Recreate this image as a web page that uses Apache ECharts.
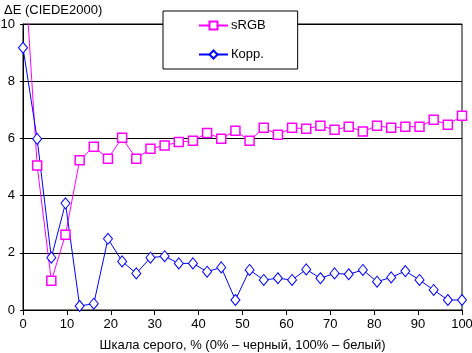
<!DOCTYPE html>
<html>
<head>
<meta charset="utf-8">
<script src="https://cdn.jsdelivr.net/npm/echarts@6/dist/echarts.min.js"></script>
<style>
  html, body { margin: 0; padding: 0; background: #fff; }
  #chart { width: 472px; height: 353px; }
</style>
</head>
<body>
<div id="chart"></div>
<script>
// 32 grey levels, 0..100 %
var grey = [];
for (var i = 0; i < 32; i++) grey.push(i * 100 / 31);

var srgb = [12.9, 5.05, 1.02, 2.63, 5.24, 5.71, 5.29, 6.02, 5.29, 5.64, 5.75, 5.87, 5.92, 6.19, 5.99, 6.27,
            5.92, 6.37, 6.13, 6.37, 6.34, 6.44, 6.30, 6.41, 6.24, 6.44, 6.37, 6.41, 6.41, 6.65, 6.48, 6.79];
var korr = [9.17, 5.98, 1.83, 3.73, 0.14, 0.22, 2.49, 1.70, 1.28, 1.83, 1.88, 1.63, 1.63, 1.34, 1.49, 0.35,
            1.40, 1.05, 1.11, 1.05, 1.42, 1.11, 1.28, 1.25, 1.40, 0.99, 1.14, 1.36, 1.05, 0.70, 0.35, 0.35];

var yMax = 10;

function pairs(vals) {
    return vals.map(function (v, i) {
        // points above the axis are off the chart, no marker
        if (v > yMax) return { value: [grey[i], v], symbol: 'none' };
        return [grey[i], v];
    });
}

var font = 'Liberation Sans, Arial, sans-serif';
var myChart = echarts.init(document.getElementById('chart'));

option = {
    animation: false,
    backgroundColor: '#fff',
    title: {
        text: 'ΔE (CIEDE2000)',
        left: -1,
        top: -1,
        textStyle: { fontFamily: font, fontSize: 13, fontWeight: 'normal', color: '#000' }
    },
    legend: {
        orient: 'vertical',
        left: 163,
        top: 11,
        padding: [8, 32, 8, 35],
        itemGap: 16,
        itemWidth: 29,
        itemHeight: 10,
        borderColor: '#000',
        borderWidth: 1,
        backgroundColor: '#fff',
        textStyle: { fontFamily: font, fontSize: 13, color: '#000', padding: [0, 0, 0, -2] },
        data: ['sRGB', 'Корр.']
    },
    grid: {
        left: 23,
        right: 10,
        top: 24,
        bottom: 43,
        outerBoundsMode: 'none',
        show: true,
        borderColor: '#000',
        borderWidth: 1
    },
    xAxis: {
        type: 'value',
        min: 0,
        max: 100,
        interval: 10,
        name: 'Шкала серого, % (0% – черный, 100% – белый)',
        nameLocation: 'middle',
        nameGap: 29,
        nameTextStyle: { fontFamily: font, fontSize: 13, color: '#000' },
        axisLine: { lineStyle: { color: '#000' } },
        axisTick: { length: 5, lineStyle: { color: '#000' } },
        axisLabel: { fontFamily: font, fontSize: 13, color: '#000', margin: 8 },
        splitLine: { show: false }
    },
    yAxis: {
        type: 'value',
        min: 0,
        max: yMax,
        interval: 2,
        axisLine: { show: true, lineStyle: { color: '#000' } },
        axisTick: { show: true, length: 3, lineStyle: { color: '#000' } },
        axisLabel: { fontFamily: font, fontSize: 13, color: '#000', margin: 8 },
        splitLine: { lineStyle: { color: '#000', width: 1 } }
    },
    series: [
        {
            name: 'sRGB',
            type: 'line',
            data: pairs(srgb),
            symbol: 'rect',
            symbolSize: 9,
            clip: true,
            lineStyle: { color: '#ff00ff', width: 1 },
            itemStyle: { color: '#fff', borderColor: '#ff00ff', borderWidth: 1.5 }
        },
        {
            name: 'Корр.',
            type: 'line',
            data: pairs(korr),
            symbol: 'diamond',
            symbolSize: [9, 11],
            clip: true,
            lineStyle: { color: '#0000ff', width: 1 },
            itemStyle: { color: '#fff', borderColor: '#0000ff', borderWidth: 1 }
        }
    ]
};
myChart.setOption(option);
</script>
</body>
</html>
